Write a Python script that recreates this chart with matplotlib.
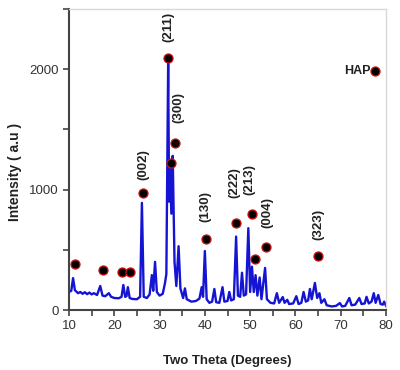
import matplotlib
matplotlib.use("Agg")
import matplotlib.pyplot as plt
from matplotlib.ticker import MultipleLocator

# XRD pattern, points (two theta, intensity)
two_theta = [10.0, 10.5, 10.9, 11.3, 12.0, 12.5, 13.0, 13.5, 14.0, 14.5, 15.0, 15.5,
             16.2, 16.9, 17.4, 18.0, 18.8, 19.3, 20.0, 21.0, 21.6, 22.0, 22.4, 22.7,
             23.0, 23.4, 24.0, 25.0, 25.7, 26.1, 26.5, 27.2, 27.8, 28.3, 28.6, 29.0,
             29.4, 30.0, 30.7, 31.2, 31.5, 31.9, 32.1, 32.3, 32.6, 32.9, 33.3, 33.7,
             34.2, 34.6, 35.2, 35.6, 36.0, 37.0, 38.0, 38.8, 39.3, 39.6, 40.0, 40.4,
             41.0, 41.6, 42.1, 42.5, 43.2, 43.9, 44.3, 45.0, 45.4, 45.8, 46.4, 46.9,
             47.3, 47.8, 48.2, 48.6, 49.1, 49.6, 50.0, 50.4, 50.8, 51.2, 51.6, 52.1,
             52.5, 53.3, 53.7, 54.5, 55.3, 55.9, 56.4, 57.2, 57.6, 58.2, 58.6, 59.5,
             60.2, 60.7, 61.3, 61.8, 62.3, 62.8, 63.2, 63.6, 64.3, 64.8, 65.3, 65.7,
             66.4, 66.9, 68.0, 69.0, 69.8, 70.3, 71.0, 71.9, 72.4, 73.2, 74.1, 74.6,
             75.3, 75.7, 76.2, 76.8, 77.3, 77.7, 78.3, 78.8, 79.3, 79.6, 80.0]
intensity = [150, 160, 265, 165, 140, 150, 135, 148, 132, 145, 130, 140,
             125, 200, 120, 115, 140, 110, 100, 98, 110, 208, 110, 115,
             190, 100, 92, 90, 110, 890, 110, 100, 130, 290, 160, 400,
             150, 120, 135, 225, 300, 2060, 900, 1190, 800, 1280, 400, 200,
             530, 180, 100, 180, 90, 70, 75, 95, 190, 110, 490, 90,
             60, 70, 175, 65, 60, 190, 70, 75, 150, 80, 90, 610,
             120, 110, 310, 120, 130, 680, 150, 360, 150, 290, 120, 270,
             90, 350, 90, 60, 55, 140, 60, 108, 60, 85, 50, 55,
             115, 50, 60, 150, 70, 80, 175, 90, 225, 100, 140, 60,
             90, 40, 30, 35, 58, 30, 35, 100, 40, 45, 100, 50,
             55, 110, 55, 70, 140, 60, 125, 50, 45, 70, 35]

# HAP reflection markers
marker_x = [11.3, 17.5, 21.7, 23.5, 26.4, 31.9, 32.6, 33.3, 40.3, 46.8, 50.3, 51.0, 53.6, 65.0]
marker_y = [383, 333, 317, 317, 975, 2090, 1217, 1383, 592, 725, 800, 425, 525, 450]

# Miller index labels
hkl_labels = ["(002)", "(211)", "(300)", "(130)", "(222)", "(213)", "(004)", "(323)"]
hkl_x = [26.4, 31.9, 34.1, 40.1, 46.6, 49.9, 53.9, 65.0]
hkl_y = [1083, 2225, 1550, 733, 933, 958, 683, 583]


def main():
    plt.rcParams["font.family"] = ["Liberation Sans", "DejaVu Sans"]
    fig = plt.figure(figsize=(4.0, 3.7), dpi=100)
    ax = fig.add_axes([0.1725, 0.162, 0.7925, 0.814])

    ax.plot(two_theta, intensity, color="#1414d2", lw=1.7)
    ax.plot(marker_x, marker_y, "o", color="black", mec="#d01010", mew=0.9, ms=6.5)

    for lab, x, y in zip(hkl_labels, hkl_x, hkl_y):
        ax.text(x, y, lab, rotation=90, ha="center", va="bottom",
                fontsize=9.5, fontweight="bold", color="#222222")

    # Legend-like label
    ax.plot([77.6], [1983], "o", color="black", mec="#d01010", mew=0.9, ms=6.5)
    ax.text(76.6, 1983, "HAP", ha="right", va="center", fontsize=9,
            fontweight="bold", color="#222222")

    ax.set_xlim(10, 80)
    ax.set_ylim(0, 2500)
    ax.xaxis.set_major_locator(MultipleLocator(10))
    ax.xaxis.set_minor_locator(MultipleLocator(5))
    ax.yaxis.set_major_locator(MultipleLocator(1000))
    ax.yaxis.set_minor_locator(MultipleLocator(500))
    ax.tick_params(which="both", direction="out", length=4, width=1.2,
                   color="#444444", labelsize=9.5, labelcolor="#333333")

    for side in ["left", "bottom"]:
        ax.spines[side].set_color("#444444")
        ax.spines[side].set_linewidth(1.5)
    for side in ["top", "right"]:
        ax.spines[side].set_color("#d8d8d8")
        ax.spines[side].set_linewidth(1.0)

    ax.set_xlabel("Two Theta (Degrees)", fontsize=9.5, fontweight="bold", color="#222222")
    ax.set_ylabel("Intensity ( a.u )", fontsize=10, fontweight="bold", color="#222222")
    ax.xaxis.set_label_coords(0.5, -0.15)
    ax.yaxis.set_label_coords(-0.148, 0.46)

    fig.savefig("out.png", dpi=100)


if __name__ == "__main__":
    main()
